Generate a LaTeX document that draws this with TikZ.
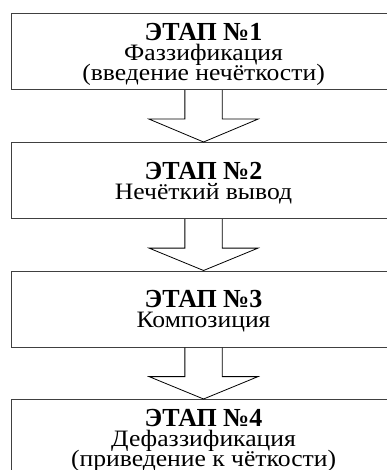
\documentclass[tikz,border=0pt]{standalone}
\usepackage{fontspec}
\setmainfont{Liberation Serif}[FakeStretch=1.09]
\newfontfamily\titlefont{Liberation Serif}
\usetikzlibrary{calc}
\newcommand{\tightlines}{\lineskiplimit=-30pt\relax}
\newcommand{\stagetitle}[1]{{\titlefont\fontsize{26}{20}\selectfont\bfseries\rule{0pt}{22pt}#1}}
\begin{document}
\begin{tikzpicture}[x=1pt,y=-1pt,
  stage/.style={draw=black!75, line width=1.1pt, minimum width=384pt, minimum height=76pt,
    inner sep=0pt, align=center, anchor=north west,
    font=\fontsize{23.5}{20}\selectfont\tightlines},
  blockarrow/.style={draw=black, line width=0.8pt, line join=miter}]
\useasboundingbox (0,0) rectangle (387,470);
\node[stage] (s1) at (11,13) {\stagetitle{ЭТАП №1}\\Фаззификация\\(введение нечёткости)};
\node[stage] (s2) at (11,142) {\stagetitle{ЭТАП №2}\\Нечёткий вывод};
\node[stage] (s3) at (11,270.5) {\stagetitle{ЭТАП №3}\\Композиция};
\node[stage] (s4) at (11,399) {\stagetitle{ЭТАП №4}\\Дефаззификация\\(приведение к чёткости)};
\foreach \a/\b in {s1/s2, s2/s3, s3/s4}{
  \draw[blockarrow] ($(\a.south)+(-18.7,0)$) -- ($(\a.south)+(-18.7,29)$)
    -- ($(\a.south)+(-54.5,29)$) -- (\b.north) -- ($(\a.south)+(54.5,29)$)
    -- ($(\a.south)+(18.7,29)$) -- ($(\a.south)+(18.7,0)$);
}
\end{tikzpicture}
\end{document}
